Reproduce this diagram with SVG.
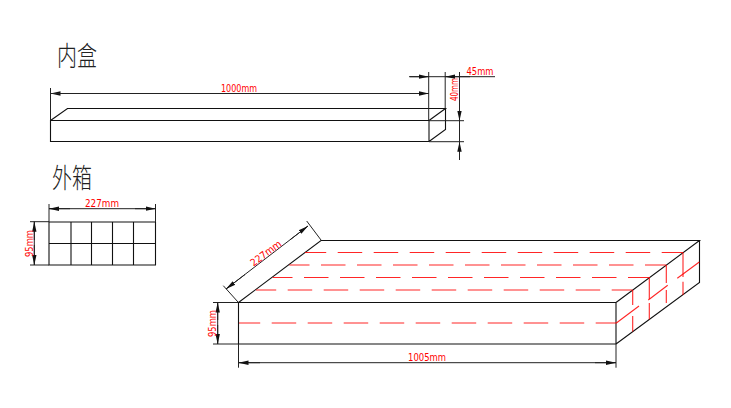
<svg xmlns="http://www.w3.org/2000/svg" width="731" height="408" viewBox="0 0 731 408">
<style>
.o{fill:none;stroke:#111;stroke-width:1.1}
.d{fill:none;stroke:#222;stroke-width:1}
.a{fill:none;stroke:#222;stroke-width:1;marker-end:url(#ah)}
.r{fill:none;stroke:#f00;stroke-width:1.1;stroke-opacity:.85}
.rd{fill:none;stroke:#f00;stroke-width:1.1;stroke-opacity:.85;stroke-dasharray:24.5 11.5}
.l{font-family:"DejaVu Sans",sans-serif;font-size:10px;fill:#f00;text-anchor:middle}
.t{font-family:"Noto Sans CJK SC","Noto Sans CJK JP",sans-serif;font-size:20px;font-weight:200;fill:#222}
</style>
<defs>
<marker id="ah" markerUnits="userSpaceOnUse" markerWidth="11" markerHeight="6" refX="10" refY="3" orient="auto">
<path d="M0,.8L10,3L0,5.2Z" fill="#111"/>
</marker>
</defs>
<rect width="731" height="408" fill="#fff"/>

<g id="title-inner"><text class="t" transform="translate(57,66) scale(1,1.35)" textLength="40">内盒</text></g>
<g id="title-outer"><text class="t" transform="translate(52,188) scale(1,1.35)" textLength="40">外箱</text></g>

<g id="inner-box">
<path class="o" d="M50.5,120.5H429V141.5H50.5ZM50.5,120.5L67.5,108.5H445.5L429,120.5M429,141.5L445.5,129.5V108.5"/>
</g>

<g id="outer-face">
<path class="o" d="M49,222H155.5V265H49ZM49,243.5H155.5M71,222V265M91.5,222V265M112.5,222V265M133.5,222V265"/>
</g>

<g id="carton">
<path class="o" d="M238.5,302.5H616V344H238.5ZM238.5,302.5L321,240.5H699.5L616,302.5M616,344L699.5,282.5V240.5"/>
</g>

<g id="carton-red">
<path class="rd" d="M305,252.5H683" stroke-dashoffset="3.3"/>
<path class="rd" d="M289.3,265H666" stroke-dashoffset="4.3"/>
<path class="rd" d="M272.7,277.5H649.5" stroke-dashoffset="4.7"/>
<path class="rd" d="M256,290H632.5" stroke-dashoffset="4.3"/>
<path class="rd" d="M239,323H616" stroke-dashoffset="3.3"/>
<path class="r" d="M632.7,290V305M632.7,316V331.5M649.3,277.5V299M649.3,303V319.5M666.3,265V283M666.3,290V303M683,252.5V277M683,281.7V295"/>
<path class="r" d="M616,323.3L639,306M648.3,300L667.7,285.3M677.3,278.3L699.3,262"/>
</g>

<g id="connectors">
<path class="d" d="M50.5,88V120M428.7,72V120M445.2,72V108M409,76.7H495M459.5,72V160M429,120.7H464M429,141.7H464"/>
<path class="a" d="M70,93.5H50.5"/><path class="d" d="M50.5,93.5H428.7"/><path class="a" d="M400,93.5H428.7"/>
<path class="a" d="M410,76.7H428.7"/><path class="a" d="M470,76.7H445.2"/>
<path class="a" d="M459.5,100V120.7"/><path class="a" d="M459.5,160V141.7"/>

<path class="d" d="M49,204V222M155.5,204V222M30,221.7H49M30,265H49"/>
<path class="d" d="M49,208.7H155.5M34.3,221.7V265"/>
<path class="a" d="M70,208.7H49"/><path class="a" d="M135,208.7H155.5"/>
<path class="a" d="M34.3,240V221.7"/><path class="a" d="M34.3,245V265"/>

<path class="d" d="M223.3,285.7L238,302M306.7,221L321,240M213,302.5H238M213,344H238M238.5,344V367.7M616,344V367.7"/>
<path class="d" d="M226,289L308,226M217.7,302.5V344M238.5,362.7H616"/>
<path class="a" d="M245,274.5L226,289"/><path class="a" d="M290,239.8L308,226"/>
<path class="a" d="M217.7,320V302.5"/><path class="a" d="M217.7,325V344"/>
<path class="a" d="M260,362.7H238.5"/><path class="a" d="M595,362.7H616"/>
</g>

<g id="labels">
<text class="l" x="239" y="92" textLength="36" lengthAdjust="spacingAndGlyphs">1000mm</text>
<text class="l" x="480" y="75" textLength="27" lengthAdjust="spacingAndGlyphs">45mm</text>
<text class="l" transform="translate(458,89.5) rotate(-90)" textLength="23" lengthAdjust="spacingAndGlyphs">40mm</text>
<text class="l" x="102" y="207" textLength="34" lengthAdjust="spacingAndGlyphs">227mm</text>
<text class="l" transform="translate(33,243.5) rotate(-90)" textLength="27" lengthAdjust="spacingAndGlyphs">95mm</text>
<text class="l" transform="translate(268,256) rotate(-37)" textLength="36" lengthAdjust="spacingAndGlyphs">227mm</text>
<text class="l" transform="translate(216,323.5) rotate(-90)" textLength="27" lengthAdjust="spacingAndGlyphs">95mm</text>
<text class="l" x="427" y="361" textLength="38" lengthAdjust="spacingAndGlyphs">1005mm</text>
</g>
</svg>
